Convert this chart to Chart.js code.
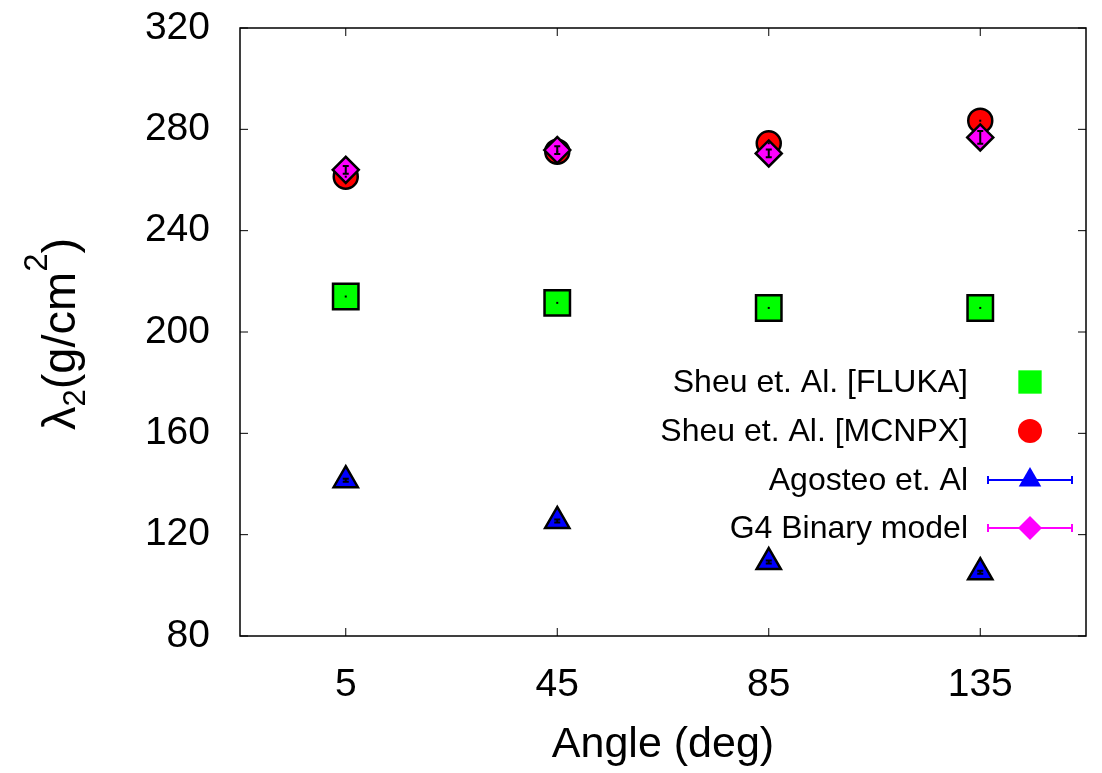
<!DOCTYPE html>
<html>
<head>
<meta charset="utf-8">
<script src="https://cdn.jsdelivr.net/npm/chart.js@4.4.0/dist/chart.umd.min.js"></script>
<style>
  html, body { margin: 0; padding: 0; background: #fff; }
  #wrap { width: 1102px; height: 773px; position: relative; }
</style>
</head>
<body>
<div id="wrap"><canvas id="c"></canvas></div>
<script>
// ---- data ----
const angles = ['5', '45', '85', '135'];
const yTicks = [80, 120, 160, 200, 240, 280, 320];

const flukaVals   = [214, 211.5, 209.5, 209.5];
const mcnpxVals   = [261.3, 271.2, 274.5, 283.4];
const agosteoVals = [141.5, 125.4, 109.2, 105.2];
const agosteoErr  = [0.6, 0.6, 0.6, 0.6];
const g4Vals      = [264, 271.8, 270.5, 276.8];
const g4Err       = [1.5, 1.5, 1.5, 2.5];

const FONT = '"Liberation Sans", Arial, Helvetica, sans-serif';

// ---- helpers ----
function markerPath(ctx, style, x, y, r){
  ctx.beginPath();
  if(style === 'rect'){
    const s = r * Math.SQRT1_2;
    ctx.rect(x - s, y - s, 2*s, 2*s);
  }else if(style === 'circle'){
    ctx.arc(x, y, r, 0, Math.PI*2);
  }else if(style === 'triangle'){
    for(let i=0;i<3;i++){
      const a = i * 2*Math.PI/3;
      const px = x + Math.sin(a)*r, py = y - Math.cos(a)*r;
      if(i===0) ctx.moveTo(px, py); else ctx.lineTo(px, py);
    }
    ctx.closePath();
  }else if(style === 'rectRot'){
    ctx.moveTo(x, y - r); ctx.lineTo(x + r, y); ctx.lineTo(x, y + r); ctx.lineTo(x - r, y);
    ctx.closePath();
  }
}

// frame, inward ticks, error bars, legend, y title
const decorPlugin = {
  id: 'decor',
  afterDatasetsDraw(chart){
    const {ctx, chartArea: a, scales} = chart;
    const xs = scales.x, ys = scales.y;
    ctx.save();

    // error bars / centre marks
    chart.data.datasets.forEach((ds, di) => {
      const meta = chart.getDatasetMeta(di);
      meta.data.forEach((pt, i) => {
        const err = ds.errors ? ds.errors[i] : 0;
        ctx.strokeStyle = '#000';
        ctx.fillStyle = '#000';
        if(err > 0){
          const y1 = ys.getPixelForValue(ds.data[i] - err);
          const y2 = ys.getPixelForValue(ds.data[i] + err);
          ctx.lineWidth = 2;
          ctx.beginPath();
          ctx.moveTo(pt.x, y1); ctx.lineTo(pt.x, y2);
          ctx.moveTo(pt.x - 3, y1); ctx.lineTo(pt.x + 3, y1);
          ctx.moveTo(pt.x - 3, y2); ctx.lineTo(pt.x + 3, y2);
          ctx.stroke();
        }else{
          ctx.fillRect(pt.x - 1, pt.y - 1, 2, 2);
        }
      });
    });

    // frame
    ctx.strokeStyle = '#000';
    ctx.lineWidth = 1.5;
    ctx.strokeRect(a.left, a.top, a.right - a.left, a.bottom - a.top);

    // inward ticks, mirrored
    const tl = 8;
    ctx.lineWidth = 1;
    ctx.beginPath();
    ys.ticks.forEach((t, i) => {
      const y = ys.getPixelForTick(i);
      ctx.moveTo(a.left, y); ctx.lineTo(a.left + tl, y);
      ctx.moveTo(a.right, y); ctx.lineTo(a.right - tl, y);
    });
    xs.ticks.forEach((t, i) => {
      const x = xs.getPixelForTick(i);
      ctx.moveTo(x, a.bottom); ctx.lineTo(x, a.bottom - tl);
      ctx.moveTo(x, a.top); ctx.lineTo(x, a.top + tl);
    });
    ctx.stroke();

    // legend
    const textRight = 968, markX = 1030;
    const rows = [382, 431, 480, 528];
    ctx.font = '32px ' + FONT;
    ctx.textAlign = 'right';
    ctx.textBaseline = 'middle';
    chart.data.datasets.forEach((ds, di) => {
      const y = rows[di];
      ctx.fillStyle = '#000';
      ctx.fillText(ds.label, textRight, y + 1);
      if(ds.errors){
        ctx.strokeStyle = ds.backgroundColor;
        ctx.lineWidth = 2;
        ctx.beginPath();
        ctx.moveTo(988, y); ctx.lineTo(1072, y);
        ctx.moveTo(988, y - 4); ctx.lineTo(988, y + 4);
        ctx.moveTo(1072, y - 4); ctx.lineTo(1072, y + 4);
        ctx.stroke();
      }
      ctx.fillStyle = ds.backgroundColor;
      markerPath(ctx, ds.pointStyle, markX, y, ds.legendRadius);
      ctx.fill();
    });

    // y title: lambda_2 (g/cm^2)
    const F = 47;
    ctx.translate(75, 334);
    ctx.rotate(-Math.PI/2);
    ctx.fillStyle = '#000';
    ctx.textAlign = 'left';
    ctx.textBaseline = 'alphabetic';
    const parts = [
      {t:'\u03bb', s:1, dy:0},
      {t:'2', s:0.66, dy:0.21},
      {t:'(g/cm', s:1, dy:0},
      {t:'2', s:0.7, dy:-0.6},
      {t:')', s:1, dy:0}
    ];
    let total = 0;
    parts.forEach(p => { ctx.font = (F*p.s) + 'px ' + FONT; p.w = ctx.measureText(p.t).width; total += p.w; });
    let x = -total/2;
    parts.forEach(p => {
      ctx.font = (F*p.s) + 'px ' + FONT;
      ctx.fillText(p.t, x, p.dy*F);
      x += p.w;
    });
    ctx.restore();
  }
};

const pointDefaults = { showLine: false, borderColor: '#000', pointBorderColor: '#000', pointBorderWidth: 2.5 };

new Chart(document.getElementById('c'), {
  type: 'line',
  data: {
    labels: angles,
    datasets: [
      { ...pointDefaults, label: 'Sheu et. Al. [FLUKA]', data: flukaVals, backgroundColor: '#00ff00', order: 3,
        pointBackgroundColor: '#00ff00', pointStyle: 'rect', pointRadius: 18, legendRadius: 16.5 },
      { ...pointDefaults, label: 'Sheu et. Al. [MCNPX]', data: mcnpxVals, backgroundColor: '#ff0000', order: 2,
        pointBackgroundColor: '#ff0000', pointStyle: 'circle', pointRadius: 12, legendRadius: 12 },
      { ...pointDefaults, label: 'Agosteo et. Al', data: agosteoVals, errors: agosteoErr, backgroundColor: '#0000ff', order: 1,
        pointBackgroundColor: '#0000ff', pointStyle: 'triangle', pointRadius: 14, legendRadius: 13 },
      { ...pointDefaults, label: 'G4 Binary model', data: g4Vals, errors: g4Err, backgroundColor: '#ff00ff', order: 0,
        pointBackgroundColor: '#ff00ff', pointStyle: 'rectRot', pointRadius: 13, legendRadius: 12 }
    ]
  },
  options: {
    responsive: true,
    maintainAspectRatio: false,
    animation: false,
    events: [],
    layout: { autoPadding: false, padding: { top: 28, right: 16, left: 0, bottom: 0 } },
    plugins: { legend: { display: false }, tooltip: { enabled: false } },
    scales: {
      x: {
        type: 'category',
        offset: true,
        grid: { display: false, drawTicks: false },
        border: { display: false },
        ticks: { color: '#000', font: { family: FONT, size: 39 }, padding: 26 },
        title: { display: true, text: 'Angle (deg)', color: '#000', font: { family: FONT, size: 43 }, padding: { top: 0, bottom: 2 } },
        afterFit(s){ s.height = 137; s.paddingLeft = 0; s.paddingRight = 0; }
      },
      y: {
        min: 80, max: 320,
        afterBuildTicks(s){ s.ticks = yTicks.map(v => ({ value: v })); },
        grid: { display: false, drawTicks: false },
        border: { display: false },
        ticks: { color: '#000', font: { family: FONT, size: 39 }, padding: 30 },
        afterFit(s){ s.width = 240; s.paddingTop = 0; s.paddingBottom = 0; }
      }
    }
  },
  plugins: [decorPlugin]
});
</script>
</body>
</html>
